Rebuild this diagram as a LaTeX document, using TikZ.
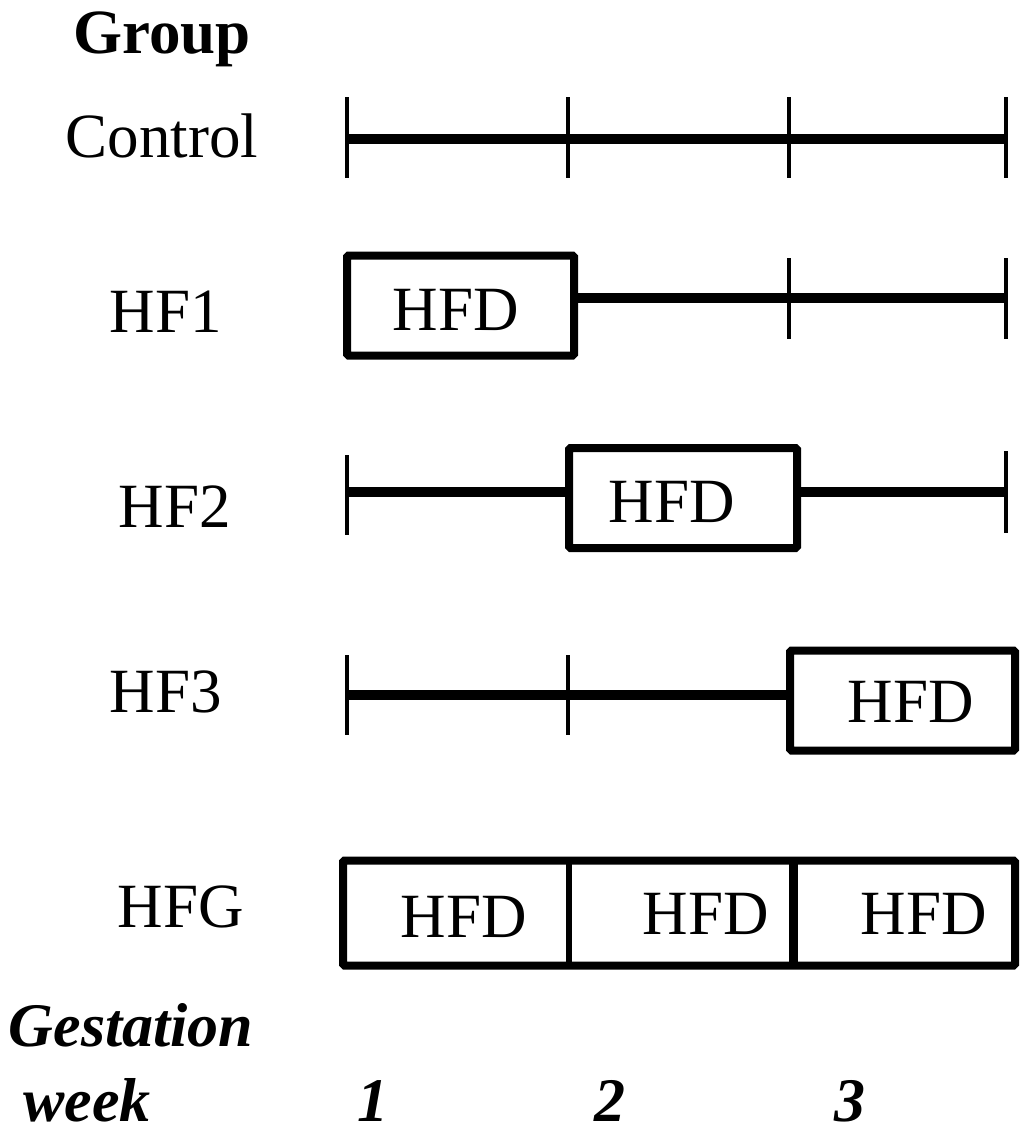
\documentclass[tikz,border=0pt]{standalone}
\usepackage{fontspec}
\setmainfont{Liberation Serif}
\begin{document}
\begin{tikzpicture}[x=1pt,y=-1pt,
  lbl/.style={anchor=base,inner sep=0pt,font=\fontsize{63}{70}\selectfont},
  blbl/.style={lbl,font=\fontsize{63}{70}\selectfont\bfseries},
  bilbl/.style={lbl,font=\fontsize{62}{70}\selectfont\bfseries\itshape},
  bar/.style={line width=10pt},
  tick/.style={line width=4.5pt},
  hfdbox/.style={draw,line width=8pt,rounded corners=1.5pt,minimum width=#1,minimum height=100pt,inner sep=0pt},
  divider/.style={line width=#1}
]
\useasboundingbox (0,0) rectangle (1024,1141);
% labels
\node[blbl] (group) at (162,53) {Group};
\node[lbl] (lc) at (162,157) {Control};
\node[lbl] (l1) at (166,332) {HF1};
\node[lbl] (l2) at (175,527) {HF2};
\node[lbl] (l3) at (166,712) {HF3};
\node[lbl] (lg) at (181,927) {HFG};
\node[bilbl] (gest) at (131,1046) {Gestation};
\node[bilbl] (week) at (87,1121) {week};
\node[bilbl] (w1) at (373,1121) {1};
\node[bilbl] (w2) at (610,1121) {2};
\node[bilbl] (w3) at (850,1121) {3};

% Control row
\foreach \x/\n in {347/a,568/b,789/c,1006/d}{
  \coordinate (c\n) at (\x,139);
  \draw[tick] (\x,97) -- (\x,178);
}
\draw[bar] (ca) -- (cd);

% HF1 row
\node[hfdbox=227pt] (b1) at (460.5,305.5) {};
\node[lbl] (t1) at (456,330) {HFD};
\foreach \x/\n in {789/c,1006/d}{
  \coordinate (h1\n) at (\x,298);
  \draw[tick] (\x,258) -- (\x,339);
}
\draw[bar] (b1.east |- h1d) -- (h1d);

% HF2 row
\node[hfdbox=228pt] (b2) at (683,498) {};
\node[lbl] (t2) at (672,522) {HFD};
\coordinate (h2a) at (347,492);
\coordinate (h2d) at (1006,492);
\draw[tick] (347,455) -- (347,535);
\draw[tick] (1006,451) -- (1006,533);
\draw[bar] (h2a) -- (b2.west |- h2a);
\draw[bar] (b2.east |- h2d) -- (h2d);

% HF3 row
\node[hfdbox=225pt] (b3) at (902.5,700.5) {};
\node[lbl] (t3) at (911,722) {HFD};
\coordinate (h3a) at (347,695);
\coordinate (h3b) at (568,695);
\draw[tick] (347,655) -- (347,735);
\draw[tick] (568,655) -- (568,735);
\draw[bar] (h3a) -- (b3.west |- h3a);

% HFG row
\node[hfdbox=672pt,minimum height=105pt] (bg) at (679,913) {};
\coordinate (gd1t) at (569,860); \coordinate (gd1b) at (569,966);
\coordinate (gd2t) at (793,860); \coordinate (gd2b) at (793,966);
\draw[divider=6pt] (gd1t) -- (gd1b);
\draw[divider=9pt] (gd2t) -- (gd2b);
\node[lbl] (tg1) at (464,937) {HFD};
\node[lbl] (tg2) at (706,934) {HFD};
\node[lbl] (tg3) at (924,934) {HFD};
\end{tikzpicture}
\end{document}
